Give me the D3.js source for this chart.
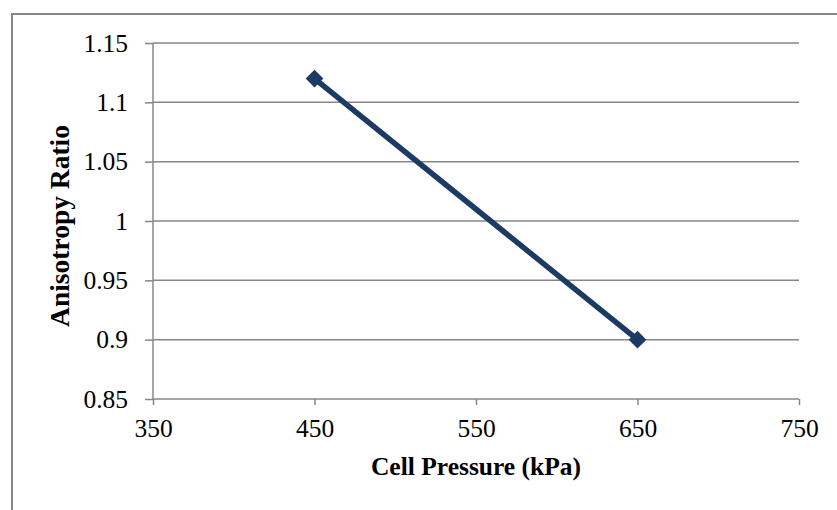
<!DOCTYPE html>
<html>
<head>
<meta charset="utf-8">
<script src="https://cdn.jsdelivr.net/npm/d3@7"></script>
<style>
  html, body { margin: 0; padding: 0; background: #fff; }
  svg { display: block; }
</style>
</head>
<body>
<svg id="chart" width="837" height="510"></svg>
<script>
const pressures = [450, 650];
const ratios = [1.12, 0.90];
const xTicks = [350, 450, 550, 650, 750];
const yTicks = [0.85, 0.9, 0.95, 1, 1.05, 1.1, 1.15];
const xTitle = "Cell Pressure (kPa)";
const yTitle = "Anisotropy Ratio";

const W = 837, H = 510;
const m = { left: 153, top: 43, right: 799, bottom: 399 };
const svg = d3.select("#chart");
const font = "'Liberation Serif', 'Times New Roman', serif";
const grey = "#878787";
const navy = "#1B3A64";

// outer chart border (extends past the right and bottom edges)
svg.append("rect")
  .attr("x", 12).attr("y", 14).attr("width", 840).attr("height", 520)
  .attr("fill", "#fff").attr("stroke", grey).attr("stroke-width", 2);

const x = d3.scaleLinear().domain([350, 750]).range([m.left, m.right]);
const y = d3.scaleLinear().domain([0.85, 1.15]).range([m.bottom, m.top]);

// gridlines
svg.append("g").selectAll("line").data(yTicks.filter(d => d !== 0.85)).join("line")
  .attr("x1", m.left).attr("x2", m.right)
  .attr("y1", d => y(d)).attr("y2", d => y(d))
  .attr("stroke", grey).attr("stroke-width", 1.5);

// y axis
const yAxis = svg.append("g").attr("transform", `translate(${m.left},0)`)
  .call(d3.axisLeft(y).tickValues(yTicks).tickSize(8).tickPadding(17)
    .tickFormat(d => d3.format("")(+d.toFixed(2))));
yAxis.select(".domain").attr("stroke", grey).attr("stroke-width", 1.5).attr("d", `M0,${m.top}V${m.bottom}`);
yAxis.selectAll(".tick line").attr("stroke", grey).attr("stroke-width", 1.5);
yAxis.selectAll("text").attr("font-family", font).attr("font-size", 25.5).attr("fill", "#000");

// x axis
const xAxis = svg.append("g").attr("transform", `translate(0,${m.bottom})`)
  .call(d3.axisBottom(x).tickValues(xTicks).tickSize(6).tickPadding(14).tickFormat(d3.format("d")));
xAxis.select(".domain").attr("stroke", grey).attr("stroke-width", 1.5).attr("d", `M${m.left},0H${m.right}`);
xAxis.selectAll(".tick line").attr("stroke", grey).attr("stroke-width", 1.5);
xAxis.selectAll("text").attr("font-family", font).attr("font-size", 25.5).attr("fill", "#000");

// axis titles
svg.append("text")
  .attr("x", (m.left + m.right) / 2).attr("y", 475)
  .attr("text-anchor", "middle")
  .attr("font-family", font).attr("font-size", 25.5).attr("font-weight", "bold")
  .text(xTitle);
svg.append("text")
  .attr("transform", `translate(69,226) rotate(-90)`)
  .attr("text-anchor", "middle")
  .attr("font-family", font).attr("font-size", 27.5).attr("font-weight", "bold")
  .text(yTitle);

// series
const pts = pressures.map((p, i) => [p, ratios[i]]);
svg.append("path").datum(pts)
  .attr("fill", "none").attr("stroke", navy).attr("stroke-width", 5.5)
  .attr("d", d3.line().x(d => x(d[0])).y(d => y(d[1])));
svg.append("g").selectAll("path").data(pts).join("path")
  .attr("transform", d => `translate(${x(d[0])},${y(d[1])})`)
  .attr("d", d3.symbol().type(d3.symbolDiamond2).size(200))
  .attr("fill", navy);
</script>
</body>
</html>
